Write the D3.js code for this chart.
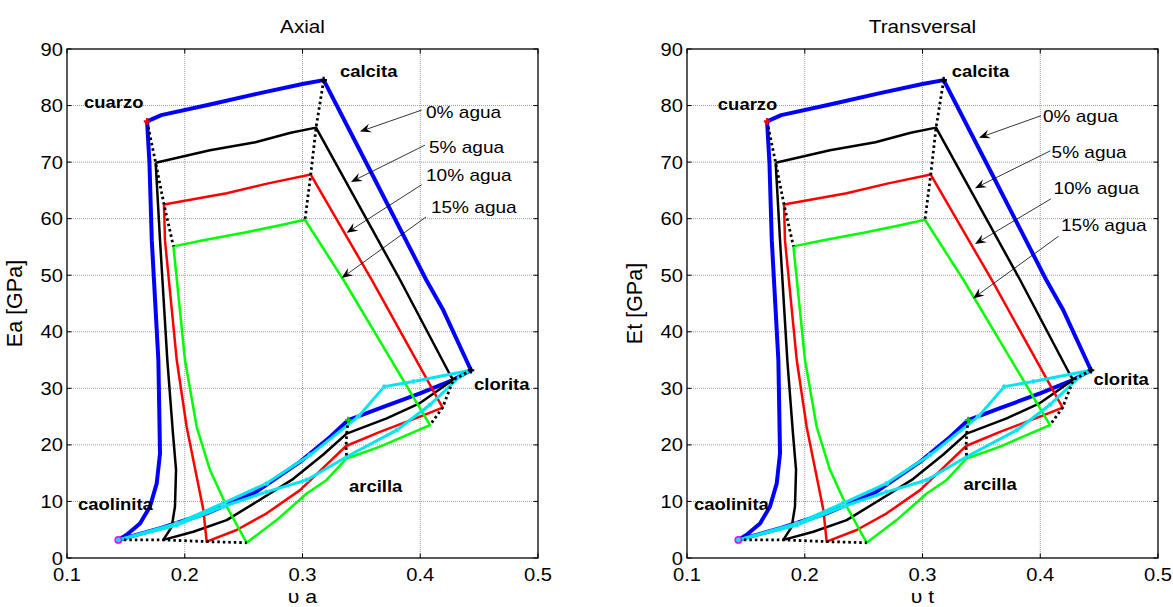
<!DOCTYPE html>
<html><head><meta charset="utf-8">
<script src="https://cdn.jsdelivr.net/npm/d3@7"></script>
<style>body{margin:0;background:#fff}svg{display:block}</style>
</head><body>
<svg id="chart" width="1173" height="607"></svg>
<script>
// ---------- data ----------
const xTicks = [0.1, 0.2, 0.3, 0.4, 0.5];
const yTicks = [0, 10, 20, 30, 40, 50, 60, 70, 80, 90];
const panelTitles = ["Axial", "Transversal"];
const yLabels = ["Ea [GPa]", "Et [GPa]"];
const xLabels = ["\u03c5 a", "\u03c5 t"];

// closed loops: cuarzo corner -> calcita corner -> clorita corner -> arcilla -> caolinita corner -> back
const agua0 = [[0.168,77.2],[0.18,78.3],[0.2214,80.2],[0.2639,82.2],[0.30,83.8],[0.318,84.5],
  [0.36,67.5],[0.405,49.2],[0.4196,43.8],[0.4431,33.2],
  [0.4281,31.5],[0.3998,29.1],[0.3658,26.5],[0.3389,24.4],[0.3234,21.4],[0.2979,17.0],[0.26,11.6],[0.22,8.0],[0.18,5.3],[0.1436,3.2],
  [0.1507,4.1],[0.162,6.1],[0.1705,9.1],[0.1762,13.2],[0.179,18.5],[0.1776,35.0],[0.172,56.2],[0.170,70],[0.168,77.2]];
const agua5 = [[0.1753,69.9],[0.2214,72.1],[0.26,73.5],[0.29,75.2],[0.3115,76.1],
  [0.3828,49.2],[0.4253,32.4],[0.428,31.5],
  [0.3998,27.4],[0.3715,24.7],[0.3375,22.0],[0.3177,18.3],[0.2922,14.0],[0.2639,10.3],[0.2356,6.7],[0.2073,4.65],[0.1818,3.2],
  [0.1889,5.5],[0.1917,9.1],[0.1926,15.6],[0.19,22],[0.1852,35.0],[0.179,56.2],[0.1753,69.9]];
const agua10 = [[0.1824,62.5],[0.2356,64.5],[0.27,66.2],[0.307,67.8],
  [0.3587,49.2],[0.419,26.6],
  [0.3998,25.0],[0.3658,22.3],[0.337,19.8],[0.3149,15.4],[0.2979,12.0],[0.2696,7.9],[0.2441,4.95],[0.2186,2.9],
  [0.2158,8.5],[0.2101,14.4],[0.2016,23.2],[0.1932,35.0],[0.1832,56.2],[0.1824,62.5]];
const agua15 = [[0.1904,55.1],[0.2158,56.2],[0.25,57.5],[0.28,58.8],[0.3021,59.8],
  [0.3347,49.2],[0.4083,23.5],
  [0.3658,19.7],[0.3375,17.6],[0.3205,13.8],[0.3036,11.4],[0.278,6.7],[0.2526,2.7],
  [0.2356,9.1],[0.2214,15.6],[0.2101,23.2],[0.2002,35.0],[0.1904,55.1]];
const arcillaUpper = [[0.1436,3.2],[0.1932,6.1],[0.2328,9.7],[0.2696,13.2],[0.3064,18.2],[0.3474,25.0],[0.3695,30.3],[0.3941,31.2],[0.4431,33.2]];
const arcillaLower = [[0.1436,3.2],[0.1932,5.8],[0.2328,9.1],[0.2696,11.7],[0.3036,13.8],[0.3375,17.9],[0.38,22.6],[0.4083,27.1],[0.4338,32.1],[0.4431,33.2]];
// dotted links between equal-mineral corners
const linkCuarzo   = [[0.168,77.2],[0.1753,69.9],[0.1824,62.5],[0.1904,55.1]];
const linkCalcita  = [[0.318,84.5],[0.3115,76.1],[0.307,67.8],[0.3021,59.8]];
const linkCaolinita= [[0.1436,3.2],[0.1818,3.2],[0.2186,2.9],[0.2526,2.7]];
const linkClorita  = [[0.4431,33.2],[0.428,31.5],[0.419,26.6],[0.4083,23.5]];
const linkArcilla  = [[0.3389,24.4],[0.3375,22.0],[0.337,19.8],[0.3375,17.6]];
// mineral end members
const mineralNames = ["cuarzo","calcita","clorita","caolinita","arcilla"];
const mineralPts = [[0.168,77.2],[0.318,84.5],[0.4431,33.2],[0.1436,3.2],[0.3389,24.4]];
const mineralColors = ["#ff0000","#000000","#000000","#ff00ff","#00cc00"];
// labels per panel [x, y]
const labelPosAxial = [[0.1144,80.6],[0.3318,86.0],[0.4457,30.8],[0.1093,9.5],[0.3395,12.7]];
const labelPosTrans = [[0.1262,80.2],[0.3248,86.0],[0.4452,31.6],[0.1059,9.5],[0.3348,13.0]];
const waterNames = ["0% agua","5% agua","10% agua","15% agua"];
const waterTextAxial = [[0.4049,78.9],[0.4074,72.7],[0.4049,67.7],[0.4091,62.0]];
const waterTextTrans = [[0.4023,78.1],[0.4096,71.7],[0.4112,65.4],[0.4176,58.9]];
const arrowFromAxial = [[0.4012,79.2],[0.404,73.0],[0.4012,66.0],[0.4049,60.3]];
const arrowToAxial   = [[0.3488,75.4],[0.3412,66.5],[0.3375,57.5],[0.3333,49.5]];
const arrowFromTrans = [[0.4006,78.2],[0.4086,72.0],[0.409,63.5],[0.4156,56.9]];
const arrowToTrans   = [[0.348,74.3],[0.3446,65.4],[0.3446,55.5],[0.3429,45.9]];

const series = [
  {data: agua0, color: "#0000ff", w: 4},
  {data: agua5, color: "#000000", w: 2.5},
  {data: agua10, color: "#ff0000", w: 2.5},
  {data: agua15, color: "#00ff00", w: 2.5},
  {data: arcillaUpper, color: "#00e5ee", w: 3},
  {data: arcillaLower, color: "#00e5ee", w: 3}
];
const links = [linkCuarzo, linkCalcita, linkCaolinita, linkClorita, linkArcilla];

// ---------- layout ----------
const FONT = "'Liberation Sans', Arial, sans-serif";
const SX = 1.12;
const panels = [
  {x0: 67, x1: 538, labels: labelPosAxial, wText: waterTextAxial, aFrom: arrowFromAxial, aTo: arrowToAxial},
  {x0: 687, x1: 1158, labels: labelPosTrans, wText: waterTextTrans, aFrom: arrowFromTrans, aTo: arrowToTrans}
];
const yTop = 49, yBot = 558;
const svg = d3.select("#chart");

function stretchedText(g, x, y, txt, size, weight, anchor) {
  return g.append("text")
    .attr("transform", `translate(${x},${y}) scale(${SX},1)`)
    .attr("font-family", FONT).attr("font-size", size)
    .attr("font-weight", weight || "normal")
    .attr("text-anchor", anchor || "start")
    .attr("fill", "#000").text(txt);
}

panels.forEach((p, pi) => {
  const x = d3.scaleLinear().domain([0.1, 0.5]).range([p.x0, p.x1]);
  const y = d3.scaleLinear().domain([0, 90]).range([yBot, yTop]);
  const g = svg.append("g");

  // grid
  g.selectAll(".gx").data(xTicks.slice(1, -1)).join("line")
    .attr("x1", d => x(d)).attr("x2", d => x(d)).attr("y1", yTop).attr("y2", yBot)
    .attr("stroke", "#808080").attr("stroke-width", 0.8).attr("stroke-dasharray", "1,1");
  g.selectAll(".gy").data(yTicks.slice(1, -1)).join("line")
    .attr("y1", d => y(d)).attr("y2", d => y(d)).attr("x1", p.x0).attr("x2", p.x1)
    .attr("stroke", "#808080").attr("stroke-width", 0.8).attr("stroke-dasharray", "1,1");

  const line = d3.line().x(d => x(d[0])).y(d => y(d[1]));
  const clip = "clip" + pi;
  g.append("clipPath").attr("id", clip).append("rect")
    .attr("x", p.x0).attr("y", yTop).attr("width", p.x1 - p.x0).attr("height", yBot - yTop);
  const plot = g.append("g").attr("clip-path", `url(#${clip})`);

  series.forEach(s => {
    plot.append("path").attr("d", line(s.data)).attr("fill", "none")
      .attr("stroke", s.color).attr("stroke-width", s.w).attr("stroke-linejoin", "round");
  });
  [arcillaUpper, arcillaLower].forEach(arr => {
    plot.selectAll(null).data(arr.slice(1, -1)).join("circle")
      .attr("cx", d => x(d[0])).attr("cy", d => y(d[1])).attr("r", 2.2)
      .attr("fill", "#00e5ee").attr("stroke", "#7fd8ff").attr("stroke-width", 0.6);
  });
  links.forEach(l => {
    plot.append("path").attr("d", line(l)).attr("fill", "none")
      .attr("stroke", "#000").attr("stroke-width", 2.8).attr("stroke-dasharray", "2.5,3");
  });
  mineralPts.forEach((m, i) => {
    plot.append("path").attr("d", d3.symbol(d3.symbolCross, 24)())
      .attr("transform", `translate(${x(m[0])},${y(m[1])})`)
      .attr("fill", mineralColors[i]);
  });
  plot.append("circle").attr("cx", x(mineralPts[3][0])).attr("cy", y(mineralPts[3][1])).attr("r", 3.2)
    .attr("fill", "#00e5ee").attr("stroke", "#ff00ff").attr("stroke-width", 1.5);

  // axes box + ticks
  g.append("rect").attr("x", p.x0).attr("y", yTop).attr("width", p.x1 - p.x0).attr("height", yBot - yTop)
    .attr("fill", "none").attr("stroke", "#000").attr("stroke-width", 1.3);
  const tl = 4.5;
  xTicks.forEach(t => {
    g.append("line").attr("x1", x(t)).attr("x2", x(t)).attr("y1", yBot).attr("y2", yBot - tl).attr("stroke", "#000");
    g.append("line").attr("x1", x(t)).attr("x2", x(t)).attr("y1", yTop).attr("y2", yTop + tl).attr("stroke", "#000");
    stretchedText(g, x(t), 581, String(t), 18, "normal", "middle");
  });
  yTicks.forEach(t => {
    g.append("line").attr("x1", p.x0).attr("x2", p.x0 + tl).attr("y1", y(t)).attr("y2", y(t)).attr("stroke", "#000");
    g.append("line").attr("x1", p.x1).attr("x2", p.x1 - tl).attr("y1", y(t)).attr("y2", y(t)).attr("stroke", "#000");
    stretchedText(g, p.x0 - 4, y(t) + 6.5, String(t), 18, "normal", "end");
  });

  const cx = (p.x0 + p.x1) / 2;
  stretchedText(g, cx, 33, panelTitles[pi], 18.5, "normal", "middle");
  stretchedText(g, cx, 603, xLabels[pi], 19, "normal", "middle");
  g.append("text").attr("transform", `translate(${p.x0 - 45},${(yTop + yBot) / 2}) rotate(-90)`)
    .attr("font-family", FONT).attr("font-size", 21.5).attr("text-anchor", "middle").text(yLabels[pi]);

  mineralNames.forEach((n, i) => {
    const pos = p.labels[i];
    stretchedText(g, x(pos[0]), y(pos[1]) + 5.8, n, 16.5, "bold", "start");
  });
  waterNames.forEach((n, i) => {
    const pos = p.wText[i];
    stretchedText(g, x(pos[0]), y(pos[1]) + 6, n, 17, "normal", "start");
    const x1 = x(p.aFrom[i][0]), y1 = y(p.aFrom[i][1]);
    const x2 = x(p.aTo[i][0]), y2 = y(p.aTo[i][1]);
    const ang = Math.atan2(y2 - y1, x2 - x1);
    const L = 11, W = 4.5, notch = 7;
    const ux = Math.cos(ang), uy = Math.sin(ang);
    const bx = x2 - ux * L, by = y2 - uy * L;
    const nx = x2 - ux * notch, ny = y2 - uy * notch;
    g.append("line").attr("x1", x1).attr("y1", y1).attr("x2", nx).attr("y2", ny)
      .attr("stroke", "#000").attr("stroke-width", 0.8);
    g.append("path").attr("d", `M${x2},${y2}L${bx - uy * W},${by + ux * W}L${nx},${ny}L${bx + uy * W},${by - ux * W}Z`)
      .attr("fill", "#000");
  });
});
</script>
</body></html>
